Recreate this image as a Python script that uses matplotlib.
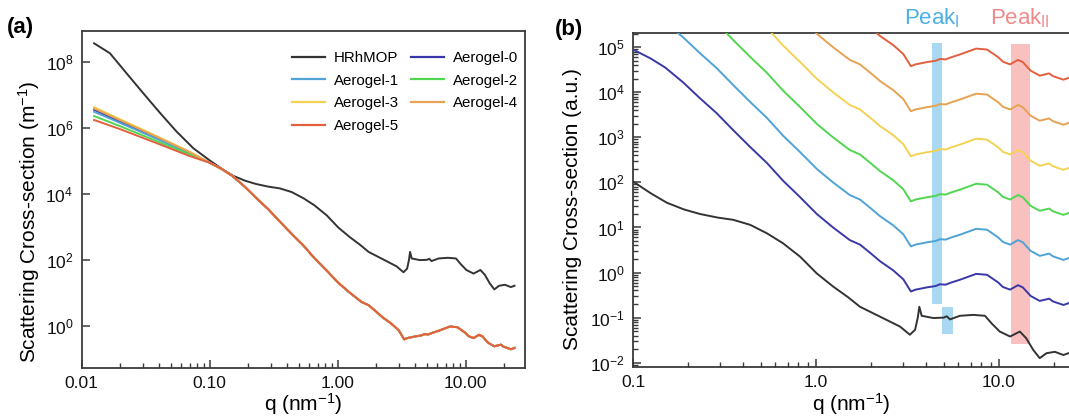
import numpy as np
import matplotlib
matplotlib.use('Agg')
import matplotlib.pyplot as plt
from matplotlib.ticker import LogLocator, NullFormatter, NullLocator, LogFormatterSciNotation
from matplotlib.lines import Line2D

plt.rcParams['font.family'] = ['Liberation Sans', 'DejaVu Sans']
plt.rcParams['mathtext.fontset'] = 'custom'
plt.rcParams['mathtext.rm'] = 'Liberation Sans'
plt.rcParams['mathtext.it'] = 'Liberation Sans:italic'
plt.rcParams['mathtext.bf'] = 'Liberation Sans:bold'

# ---------------- data ----------------
sample_names = ['HRhMOP', 'Aerogel-0', 'Aerogel-1', 'Aerogel-2',
                'Aerogel-3', 'Aerogel-4', 'Aerogel-5']
sample_colors = ['#333333', '#3a38a8', '#4fa3d6', '#52d652',
                 '#f4d254', '#e6a352', '#e2603f']
# vertical offset factors used in panel (b)
panel_b_factors = [1e-3, 1e0, 1e1, 1e2, 1e3, 1e4, 1e5]

# HRhMOP scattering cross-section, log10(m^-1)
q_hrh = [0.0125, 0.0166, 0.0224, 0.0303, 0.041, 0.055, 0.0745, 0.1, 0.125,
         0.153, 0.19, 0.232, 0.29, 0.353, 0.436, 0.54, 0.66, 0.82, 1.01,
         1.24, 1.5, 1.74, 2.24, 2.88, 3.26, 3.48, 3.6, 3.67, 3.78, 4.38,
         5.0, 5.18, 5.4, 6.12, 7.24, 8.38, 9.12, 10.1, 11.5, 13.0, 14.1,
         15.4, 16.7, 18.2, 20.2, 22.5, 24.0]
log_hrh = [8.58, 8.28, 7.67, 7.06, 6.46, 5.90, 5.39, 5.02, 4.76,
           4.55, 4.40, 4.30, 4.22, 4.17, 4.06, 3.87, 3.65, 3.35, 2.98,
           2.69, 2.45, 2.24, 2.02, 1.80, 1.62, 1.73, 2.00, 2.24, 2.04, 1.99,
           2.00, 2.03, 1.96, 2.04, 2.06, 2.04, 1.87, 1.69, 1.58, 1.69, 1.54,
           1.28, 1.10, 1.21, 1.24, 1.17, 1.21]

# Aerogel samples: low-q part differs per sample
q_aero_low = [0.0125, 0.02, 0.04, 0.07]
log_aero0_low = [6.56, 6.20, 5.68, 5.25]
log_aero1_low = [6.50, 6.16, 5.65, 5.23]
log_aero2_low = [6.37, 6.06, 5.58, 5.20]
log_aero3_low = [6.64, 6.27, 5.73, 5.28]
log_aero4_low = [6.60, 6.24, 5.71, 5.27]
log_aero5_low = [6.25, 5.97, 5.52, 5.15]

# Aerogel samples: common profile for q >= 0.1
q_aero_high = [0.1, 0.125, 0.15, 0.188, 0.232, 0.286, 0.353, 0.436, 0.54,
               0.66, 0.82, 1.01, 1.24, 1.53, 1.74, 2.0, 2.24, 2.64, 3.0,
               3.3, 3.5, 4.03, 4.5, 4.76, 5.1, 5.5, 6.12, 7.5, 8.6, 9.9,
               10.5, 11.5, 12.7, 13.5, 14.9, 16.7, 18.8, 19.7, 22.5, 24.0]
log_aero_high = [4.95, 4.75, 4.55, 4.22, 3.87, 3.54, 3.16, 2.79, 2.43,
                 2.04, 1.67, 1.30, 1.00, 0.72, 0.62, 0.42, 0.25, 0.05, -0.15,
                 -0.42, -0.38, -0.33, -0.30, -0.26, -0.27, -0.22, -0.16, -0.03, -0.05, -0.22,
                 -0.32, -0.38, -0.28, -0.33, -0.52, -0.63, -0.58, -0.64, -0.72, -0.68]

aero_low_list = [log_aero0_low, log_aero1_low, log_aero2_low,
                 log_aero3_low, log_aero4_low, log_aero5_low]

# tick labels
xticks_a = [0.01, 0.1, 1, 10]
xticklabels_a = ['0.01', '0.10', '1.00', '10.00']
xticks_b = [0.1, 1, 10]
xticklabels_b = ['0.1', '1.0', '10.0']

# ---------------- build curves ----------------
curves_q = [np.array(q_hrh)]
curves_I = [np.power(10.0, log_hrh)]
for low in aero_low_list:
    curves_q.append(np.array(q_aero_low + q_aero_high))
    curves_I.append(np.power(10.0, low + log_aero_high))

# ---------------- figure ----------------
W, H = 1069, 418
fig = plt.figure(figsize=(W / 100, H / 100), dpi=100)

def fx(px):
    return px / W

def fy(py):
    return 1 - py / H

spine_col = '#3a3a3a'

# panel (a)
axa = fig.add_axes([fx(81.7), fy(368), fx(525) - fx(81.7), fy(30.5) - fy(368)])
for qv, Iv, c in zip(curves_q, curves_I, sample_colors):
    axa.plot(qv, Iv, color=c, lw=1.4)
axa.set_xscale('log')
axa.set_yscale('log')
axa.set_xlim(0.01, 29)
axa.set_ylim(10 ** -1.29, 10 ** 8.97)
axa.set_xticks(xticks_a, labels=xticklabels_a)
axa.xaxis.set_minor_locator(LogLocator(base=10, subs=np.arange(2, 10), numticks=20))
axa.xaxis.set_minor_formatter(NullFormatter())
axa.set_yticks([1e0, 1e2, 1e4, 1e6, 1e8])
axa.yaxis.set_major_formatter(LogFormatterSciNotation())
axa.yaxis.set_minor_locator(NullLocator())

# panel (b)
axb = fig.add_axes([fx(633), fy(366.7), fx(1071.8) - fx(633), fy(33.3) - fy(366.7)])
for qv, Iv, c, f in zip(curves_q, curves_I, sample_colors, panel_b_factors):
    axb.plot(qv, Iv * f, color=c, lw=1.4, zorder=3)
axb.set_xscale('log')
axb.set_yscale('log')
axb.set_xlim(0.1, 25)
axb.set_ylim(10 ** -2.09, 10 ** 5.31)
axb.set_xticks(xticks_b, labels=xticklabels_b)
axb.xaxis.set_minor_locator(LogLocator(base=10, subs=np.arange(2, 10), numticks=20))
axb.xaxis.set_minor_formatter(NullFormatter())
axb.set_yticks([1e-2, 1e-1, 1e0, 1e1, 1e2, 1e3, 1e4, 1e5])
axb.yaxis.set_major_formatter(LogFormatterSciNotation())
axb.yaxis.set_minor_locator(LogLocator(base=10, subs=np.arange(2, 10), numticks=20))
axb.yaxis.set_minor_formatter(NullFormatter())

# highlight bands (Peak I / Peak II)
axb.fill_between([4.28, 4.90], 0.2, 10 ** 5.10, color='#a9d9f2', lw=0, zorder=1)
axb.fill_between([4.86, 5.58], 10 ** -1.36, 10 ** -0.77, color='#a9d9f2', lw=0, zorder=1)
axb.fill_between([11.7, 14.7], 10 ** -1.59, 10 ** 5.07, color='#f9c0c0', lw=0, zorder=1)

for ax in (axa, axb):
    for s in ax.spines.values():
        s.set_color(spine_col)
        s.set_linewidth(1.3)
    ax.tick_params(which='both', direction='in', colors=spine_col,
                   labelcolor='#111111', labelsize=12.5)
    ax.tick_params(which='major', length=6, width=1.1, pad=6)
    ax.tick_params(which='minor', length=3.5, width=1.0)

# legend in panel (a)
order = [0, 2, 4, 6, 1, 3, 5]
handles = [Line2D([], [], color=sample_colors[i], lw=1.6) for i in order]
labels = [sample_names[i] for i in order]
fig.legend(handles, labels, ncol=2, frameon=False, fontsize=10.8,
           loc='upper left', bbox_to_anchor=(fx(292), fy(51)),
           borderpad=0, borderaxespad=0, handlelength=2.2,
           handletextpad=0.6, columnspacing=0.8, labelspacing=0.58)

# axis labels
fig.text(fx(303), fy(404), 'q (nm$^{-1}$)', ha='center', va='center', fontsize=15)
fig.text(fx(851), fy(404), 'q (nm$^{-1}$)', ha='center', va='center', fontsize=15)
fig.text(fx(29), fy(222), 'Scattering Cross-section (m$^{-1}$)', rotation=90,
         ha='center', va='center', fontsize=15)
fig.text(fx(573), fy(209), 'Scattering Cross-section (a.u.)', rotation=90,
         ha='center', va='center', fontsize=15)

# panel letters
fig.text(fx(7), fy(27), '(a)', fontsize=16, fontweight='bold', ha='left', va='center')
fig.text(fx(555), fy(29), '(b)', fontsize=16, fontweight='bold', ha='left', va='center')

# peak labels
fig.text(fx(932), fy(18), r'Peak$_{\mathregular{I}}$', color='#4cb0e2',
         fontsize=16, ha='center', va='center')
fig.text(fx(1020), fy(18), r'Peak$_{\mathregular{II}}$', color='#f08a8a',
         fontsize=16, ha='center', va='center')

fig.savefig('out.png', dpi=100)
